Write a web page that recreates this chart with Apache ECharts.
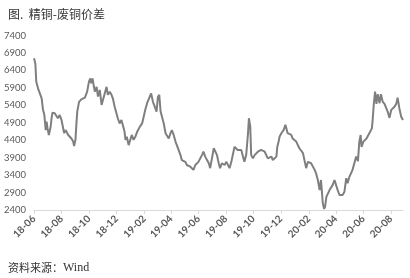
<!DOCTYPE html>
<html>
<head>
<meta charset="utf-8">
<script src="https://cdn.jsdelivr.net/npm/echarts@6/dist/echarts.min.js"></script>
<style>
  html, body { margin: 0; padding: 0; background: #fff; }
  #main { width: 410px; height: 278px; }
</style>
</head>
<body>
<div id="main"></div>
<script>
// 精铜-废铜价差 (元/吨), 读图估计
var dates = [
  '2018-06-01','2018-06-04','2018-06-06','2018-06-08','2018-06-11','2018-06-14','2018-06-18','2018-06-21','2018-06-24','2018-06-27',
  '2018-06-29','2018-07-01','2018-07-04','2018-07-06','2018-07-08','2018-07-10','2018-07-12','2018-07-17','2018-07-21','2018-07-24',
  '2018-07-28','2018-08-01','2018-08-05','2018-08-07','2018-08-10','2018-08-13','2018-08-16','2018-08-19','2018-08-23','2018-08-27',
  '2018-08-29','2018-09-01','2018-09-03','2018-09-05','2018-09-09','2018-09-14','2018-09-22','2018-09-27','2018-10-01','2018-10-04',
  '2018-10-06','2018-10-09','2018-10-12','2018-10-14','2018-10-18','2018-10-21','2018-10-25','2018-10-29','2018-11-01','2018-11-05',
  '2018-11-09','2018-11-12','2018-11-16','2018-11-20','2018-11-23','2018-11-27','2018-12-01','2018-12-04','2018-12-08','2018-12-12',
  '2018-12-15','2018-12-19','2018-12-21','2018-12-24','2018-12-28','2019-01-01','2019-01-04','2019-01-08','2019-01-12','2019-01-16',
  '2019-01-22','2019-01-27','2019-01-31','2019-02-03','2019-02-07','2019-02-11','2019-02-16','2019-02-20','2019-02-24','2019-02-28',
  '2019-03-03','2019-03-06','2019-03-09','2019-03-12','2019-03-16','2019-03-20','2019-03-23','2019-03-27','2019-03-31','2019-04-03',
  '2019-04-07','2019-04-11','2019-04-14','2019-04-18','2019-04-22','2019-04-25','2019-04-29','2019-05-03','2019-05-06','2019-05-10',
  '2019-05-14','2019-05-17','2019-05-21','2019-05-25','2019-05-29','2019-06-01','2019-06-05','2019-06-09','2019-06-12','2019-06-16',
  '2019-06-20','2019-06-24','2019-06-27','2019-07-01','2019-07-05','2019-07-08','2019-07-12','2019-07-16','2019-07-19','2019-07-23',
  '2019-07-27','2019-07-29','2019-08-02','2019-08-05','2019-08-09','2019-08-13','2019-08-16','2019-08-20','2019-08-24','2019-08-27',
  '2019-08-31','2019-09-04','2019-09-08','2019-09-11','2019-09-15','2019-09-19','2019-09-21','2019-09-24','2019-09-26','2019-09-30',
  '2019-10-04','2019-10-07','2019-10-11','2019-10-15','2019-10-18','2019-10-22','2019-10-26','2019-10-30','2019-11-02','2019-11-06',
  '2019-11-10','2019-11-13','2019-11-17','2019-11-21','2019-11-23','2019-11-26','2019-11-28','2019-12-02','2019-12-05','2019-12-07',
  '2019-12-11','2019-12-16','2019-12-24','2019-12-27','2019-12-31','2020-01-04','2020-01-11','2020-01-19','2020-01-23','2020-01-26',
  '2020-01-30','2020-02-02','2020-02-06','2020-02-10','2020-02-14','2020-02-17','2020-02-21','2020-02-25','2020-02-28','2020-03-03',
  '2020-03-06','2020-03-08','2020-03-11','2020-03-14','2020-03-18','2020-03-22','2020-03-25','2020-03-29','2020-04-02','2020-04-05',
  '2020-04-09','2020-04-13','2020-04-16','2020-04-20','2020-04-24','2020-04-27','2020-05-01','2020-05-05','2020-05-08','2020-05-12',
  '2020-05-16','2020-05-20','2020-05-23','2020-05-26','2020-05-28','2020-06-01','2020-06-05','2020-06-08','2020-06-12','2020-06-16',
  '2020-06-20','2020-06-22','2020-06-24','2020-06-27','2020-06-30','2020-07-03','2020-07-07','2020-07-10','2020-07-14','2020-07-18',
  '2020-07-21','2020-07-25','2020-07-29','2020-08-02','2020-08-05','2020-08-09','2020-08-13','2020-08-16','2020-08-20','2020-08-24',
  '2020-08-28'
];
var spread = [
  6750,6600,6080,6030,5840,5740,5600,5270,5120,4690,
  4930,4740,4550,4500,4790,5030,5190,5170,5120,5030,
  5120,4980,4930,4600,4690,4740,4550,4600,4450,4360,
  4230,4410,4840,5220,5500,5570,5620,5790,6080,6170,
  6030,6170,5930,5790,5930,5650,5840,5410,5550,5740,
  5930,5700,5790,5700,5600,5360,5170,5030,4880,4980,
  4840,4640,4410,4500,4260,4310,4550,4410,4500,4640,
  4790,4880,4840,5270,5460,5500,5740,5500,5360,5220,
  5640,5700,5220,5270,4880,4600,4640,4450,4600,4690,
  4550,4360,4260,4210,3980,3830,3880,3780,3690,3740,
  3640,3690,3550,3690,3740,3780,3780,3980,4070,3930,
  3830,3740,3600,3880,4170,4120,3980,3740,3600,3740,
  3690,3690,3780,3740,3600,3780,3830,4210,4170,4120,
  4170,4120,4070,3780,3980,4600,5030,4790,3980,3880,
  3980,4030,4070,4070,4120,4120,4070,4030,3880,3880,
  3930,3830,3780,3930,4210,4360,4500,4600,4640,4690,
  4840,4600,4550,4450,4500,4360,4170,4030,3980,3600,
  3780,3830,3740,3780,3550,3450,3260,2970,3260,2590,
  2430,2490,2780,2740,2970,2920,3120,3260,3210,2970,
  2830,2880,2830,2920,3310,3170,3350,3400,3550,3600,
  3930,3800,4350,4550,4210,4360,4410,4450,4500,4640,
  4740,5040,5410,5790,5440,5720,5460,5720,5500,5440,
  5460,5220,5040,5270,5220,5360,5440,5620,5310,5070,
  4980
];
var tickDates = [
  '2018-06-01','2018-08-01','2018-10-01','2018-12-01','2019-02-01','2019-04-01','2019-06-01',
  '2019-08-01','2019-10-01','2019-12-01','2020-02-01','2020-04-01','2020-06-01','2020-08-01'
];
var yTicks = [2400, 2900, 3400, 3900, 4400, 4900, 5400, 5900, 6400, 6900, 7400];

function toTime(s) {
  var p = s.split('-');
  return new Date(+p[0], +p[1] - 1, +p[2]).getTime();
}
var seriesData = dates.map(function (d, i) { return [toTime(d), spread[i]]; });
var tickTimes = tickDates.map(toTime);

var myChart = echarts.init(document.getElementById('main'));
var option = {
  animation: false,
  backgroundColor: '#fff',
  title: [{
    text: '图.  精铜-废铜价差',
    left: 3, top: 3,
    textStyle: { fontFamily: 'Noto Sans CJK SC', fontSize: 12, fontWeight: 'normal', color: '#333' }
  }, {
    text: '{a|资料来源：}{b|Wind}',
    left: 3, top: 257,
    textStyle: {
      fontWeight: 'normal',
      rich: {
        a: { fontFamily: 'Noto Sans CJK SC', fontSize: 11, fontWeight: 'normal', color: '#333' },
        b: { fontFamily: 'Liberation Serif', fontSize: 12, fontWeight: 'normal', color: '#333' }
      }
    }
  }],
  grid: { left: 34, right: 7, top: 35.5, bottom: 68 },
  xAxis: {
    type: 'value',
    min: toTime(dates[0]),
    max: toTime(dates[dates.length - 1]),
    axisLine: { lineStyle: { color: '#d9d9d9', width: 1 } },
    axisTick: { show: true, length: 4, lineStyle: { color: '#d9d9d9' }, customValues: tickTimes },
    splitLine: { show: false },
    axisLabel: {
      customValues: tickTimes,
      rotate: 45,
      margin: 7,
      fontFamily: 'Lato',
      fontSize: 10,
      fontWeight: 'bold',
      color: '#595959',
      formatter: function (v) {
        var d = new Date(v);
        var m = d.getMonth() + 1;
        return String(d.getFullYear()).slice(2) + '-' + (m < 10 ? '0' + m : m);
      }
    }
  },
  yAxis: {
    type: 'value',
    min: yTicks[0],
    max: yTicks[yTicks.length - 1],
    interval: 500,
    axisLine: { show: false },
    axisTick: { show: false },
    splitLine: { show: false },
    axisLabel: {
      margin: 8, fontFamily: 'Lato', fontSize: 9.5, color: '#595959',
      formatter: function (v) { return String(v); }
    }
  },
  series: [{
    type: 'line',
    data: seriesData,
    showSymbol: false,
    smooth: false,
    lineStyle: { color: '#7f7f7f', width: 2 },
    itemStyle: { color: '#7f7f7f' }
  }]
};
myChart.setOption(option);
</script>
</body>
</html>
